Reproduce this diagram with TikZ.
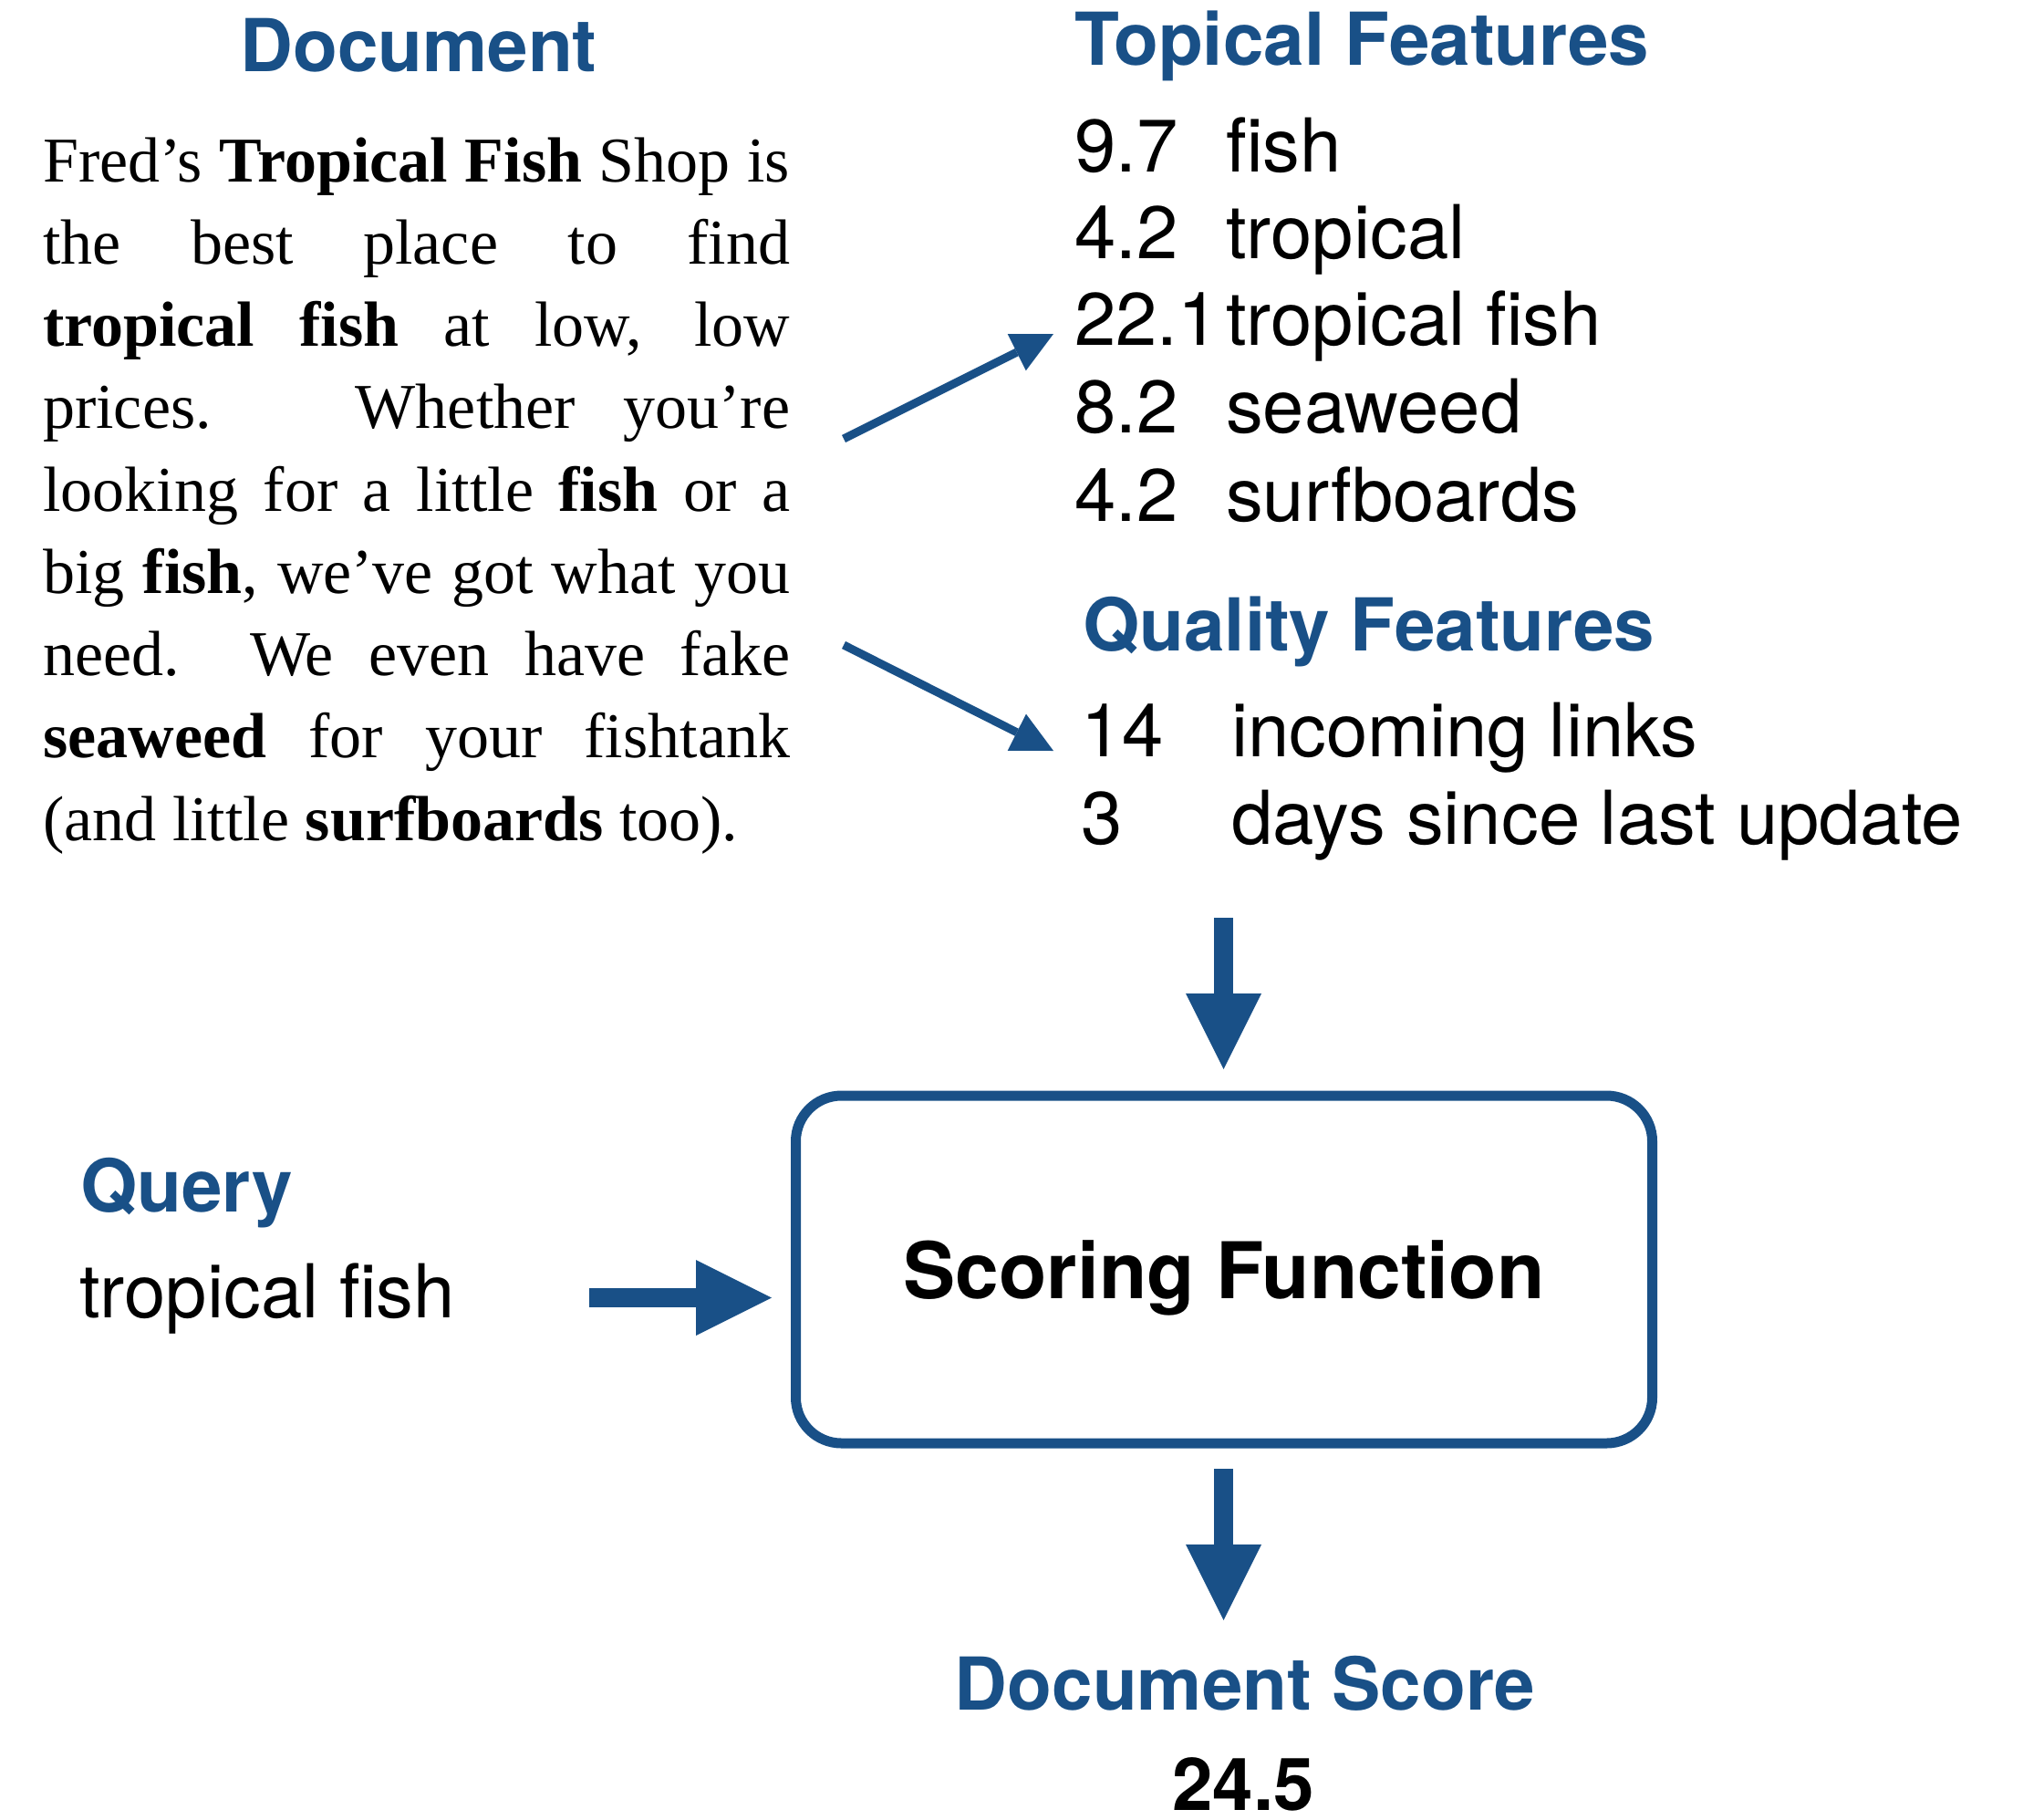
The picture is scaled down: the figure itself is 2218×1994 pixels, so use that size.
\documentclass[tikz,border=0pt]{standalone}
\usepackage{fontspec}
\setmainfont{Liberation Serif}
\newfontfamily\heros{TeX Gyre Heros}
\usetikzlibrary{arrows.meta}
\definecolor{ibrblue}{RGB}{25,80,135}
\tikzset{
  title/.style={font=\heros\bfseries\fontsize{80}{90}\selectfont, text=ibrblue, inner sep=0pt},
  feat/.style={font=\heros\fontsize{81.5}{96}\selectfont, inner sep=0pt, anchor=base west},
  thinarrow/.style={draw=ibrblue, line width=9pt, -{Triangle[length=45pt,width=45pt,line width=0pt]}},
  fatarrow/.style={draw=ibrblue, line width=21pt, -{Triangle[length=83pt,width=83pt,line width=0pt]}},
  scorebox/.style={draw=ibrblue, line width=11pt, rounded corners=50pt, minimum width=939pt, minimum height=381pt, inner sep=0pt,
    text depth=0pt, font=\heros\bfseries\fontsize{85.7}{96}\selectfont},
}
\newcommand{\dline}[1]{\makebox[819pt][s]{#1}\\}
\begin{document}
\begin{tikzpicture}[x=1pt,y=-1pt]
\useasboundingbox (0,0) rectangle (2218,1994);
% titles
\node[title, anchor=base] (doctitle) at (459,78) {Document};
\node[title, anchor=base west] (toptitle) at (1178,71) {Topical Features};
\node[title, anchor=base west] (qualtitle) at (1187,713) {Quality Features};
\node[title, anchor=base west] (querytitle) at (88,1328) {Query};
\node[title, anchor=base] (scoretitle) at (1365,1874) {Document Score};
% document text
\node[anchor=base west, inner sep=0pt] (doc) at (47,199) {\parbox[t]{819pt}{\fontsize{70}{90.25}\selectfont
\dline{Fred's \textbf{Tropical Fish} Shop is}
\dline{the best place to find}
\dline{\textbf{tropical fish} at low, low}
\dline{prices.\ \ \ Whether you're}
\dline{looking for a little \textbf{fish} or a}
\dline{big \textbf{fish}, we've got what you}
\dline{need.\ \ We even have fake}
\dline{\textbf{seaweed} for your fishtank}
\makebox[819pt][l]{(and little \textbf{surfboards} too).}}};
% topical features
\node[feat] (t1) at (1178,188) {\makebox[166pt][l]{9.7}fish};
\node[feat] (t2) at (1178,283) {\makebox[166pt][l]{4.2}tropical};
\node[feat] (t3) at (1178,378) {\makebox[166pt][l]{22.1}tropical fish};
\node[feat] (t4) at (1178,474) {\makebox[166pt][l]{8.2}seaweed};
\node[feat] (t5) at (1178,571) {\makebox[166pt][l]{4.2}surfboards};
% quality features
\node[feat] (q1) at (1185,829) {\makebox[165pt][l]{14}incoming links};
\node[feat] (q2) at (1185,925) {\makebox[165pt][l]{3}days since last update};
% query
\node[feat] (query) at (87,1444) {tropical fish};
% scoring box
\node[scorebox] (box) at (1342,1391.5) {Scoring Function};
% score
\node[inner sep=0pt, anchor=base, font=\heros\bfseries\fontsize{80}{90}\selectfont] (score) at (1363,1984) {24.5};
% connectors
\coordinate (a1s) at (925,481);
\coordinate (a1e) at (1155,366);
\coordinate (a2s) at (925,707);
\coordinate (a2e) at (1155,823);
\coordinate (d1s) at (1341.5,1006);
\coordinate (d1e) at (1341.5,1172);
\coordinate (d2s) at (1341.5,1610);
\coordinate (d2e) at (1341.5,1776);
\coordinate (rs) at (646,1422.5);
\coordinate (re) at (846,1422.5);
\draw[thinarrow] (a1s) -- (a1e);
\draw[thinarrow] (a2s) -- (a2e);
\draw[fatarrow] (d1s) -- (d1e);
\draw[fatarrow] (d2s) -- (d2e);
\draw[fatarrow] (rs) -- (re);
\end{tikzpicture}
\end{document}
